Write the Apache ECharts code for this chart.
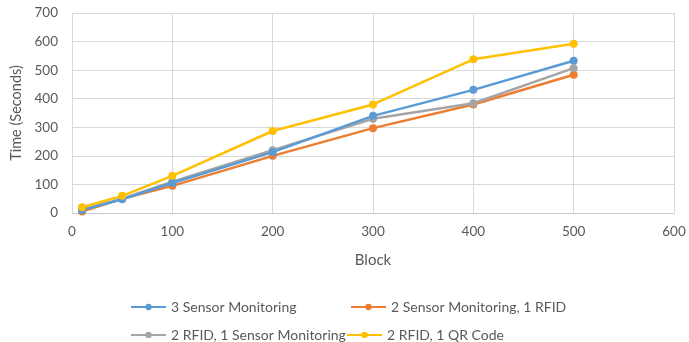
<!DOCTYPE html>
<html>
<head>
<meta charset="utf-8">
<script src="https://cdn.jsdelivr.net/npm/echarts@6/dist/echarts.min.js"></script>
<style>
  html, body { margin: 0; padding: 0; background: #fff; }
  #chart { width: 689px; height: 342px; }
</style>
</head>
<body>
<div id="chart"></div>
<script>
// Block counts on the x axis
const blocks = [10, 50, 100, 200, 300, 400, 500];

// Time (seconds) for each configuration
const threeSensor = [10, 48, 105, 213, 340, 431, 533];
const twoSensorOneRfid = [5, 50, 95, 200, 297, 380, 484];
const twoRfidOneSensor = [12, 50, 110, 220, 330, 384, 507];
const twoRfidOneQr = [20, 60, 130, 287, 380, 538, 592];

const seriesNames = [
  '3 Sensor Monitoring',
  '2 Sensor Monitoring, 1 RFID',
  '2 RFID, 1 Sensor Monitoring',
  '2 RFID, 1 QR Code'
];
const seriesValues = [threeSensor, twoSensorOneRfid, twoRfidOneSensor, twoRfidOneQr];
const colors = ['#5B9BD5', '#ED7D31', '#A5A5A5', '#FFC000'];

const textColor = '#595959';
const fontFamily = 'Lato, "Open Sans", sans-serif';

const chart = echarts.init(document.getElementById('chart'));

const series = seriesNames.map((name, i) => ({
  name: name,
  type: 'line',
  data: blocks.map((b, j) => [b, seriesValues[i][j]]),
  symbol: 'circle',
  symbolSize: 8,
  lineStyle: { width: 2.5, color: colors[i] },
  itemStyle: { color: colors[i] },
  z: i === 3 ? 4 : (i === 0 ? 3 : (i === 2 ? 2 : 1))
}));

const legendText = { color: textColor, fontSize: 14, fontFamily: fontFamily };

// one legend per entry so the two rows flow like a wrapped legend
const legendSpots = [
  { left: 130, top: 300 },
  { left: 350, top: 300 },
  { left: 130, top: 328 },
  { left: 346, top: 328 }
];
const legends = seriesNames.map((name, i) => ({
  data: [name],
  left: legendSpots[i].left,
  top: legendSpots[i].top,
  itemWidth: 35,
  itemHeight: 8,
  itemGap: 0,
  padding: 0,
  textStyle: legendText
}));

chart.setOption({
  animation: false,
  color: colors,
  grid: { left: 72, right: 15, top: 13, bottom: 129 },
  xAxis: {
    type: 'value',
    min: 0, max: 600, interval: 100,
    name: 'Block',
    nameLocation: 'middle',
    nameGap: 40,
    nameTextStyle: { color: textColor, fontSize: 15, fontFamily: fontFamily },
    axisLine: { show: true, lineStyle: { color: '#c8c8c8', width: 1 } },
    axisTick: { show: false },
    axisLabel: { color: textColor, fontSize: 13.5, fontFamily: fontFamily, margin: 12 },
    splitLine: { show: true, lineStyle: { color: '#d9d9d9', width: 1 } }
  },
  yAxis: {
    type: 'value',
    min: 0, max: 700, interval: 100,
    name: 'Time (Seconds)',
    nameLocation: 'middle',
    nameGap: 47,
    nameTextStyle: { color: textColor, fontSize: 14.5, fontFamily: fontFamily },
    axisLine: { show: false },
    axisTick: { show: false },
    axisLabel: { color: textColor, fontSize: 13.5, fontFamily: fontFamily, margin: 14 },
    splitLine: { show: true, lineStyle: { color: '#d9d9d9', width: 1 } }
  },
  legend: legends,
  series: series
});
</script>
</body>
</html>
